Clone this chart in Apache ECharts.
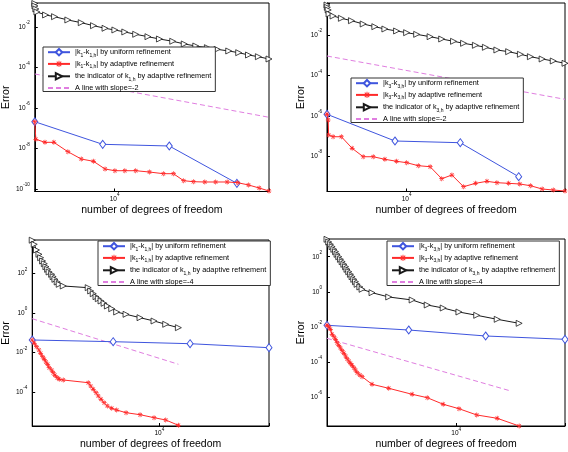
<!DOCTYPE html>
<html><head><meta charset="utf-8">
<script src="https://cdn.jsdelivr.net/npm/echarts@6/dist/echarts.min.js"></script>
<style>html,body{margin:0;padding:0;background:#fff}#c{width:568px;height:452px}</style>
</head><body><div id="c"></div><script>
// ---------- Panel 1 (k1, slope -2) ----------
const p1UniX = [4300, 8820, 17830, 36450];
const p1UniY = [2.10e-7, 1.61e-8, 1.33e-8, 1.91e-10];
const p1AdaX = [4300, 4350, 4790, 5260, 6100, 7030, 8000, 9040, 10030, 11140, 12500, 14460, 16750, 18630, 20750, 23010, 25950, 29100, 32880, 36730, 41200, 46130, 51170];
const p1AdaY = [2.10e-7, 2.85e-8, 2.02e-8, 2.02e-8, 6.95e-9, 3.03e-9, 2.33e-9, 9.7e-10, 8.0e-10, 8.0e-10, 8.0e-10, 6.9e-10, 5.7e-10, 5.7e-10, 2.57e-10, 2.29e-10, 2.22e-10, 2.22e-10, 2.22e-10, 2.05e-10, 1.58e-10, 1.12e-10, 7.96e-11];
const p1IndX = [4300, 4310, 4350, 4400, 4820, 5300, 6100, 7030, 8000, 9040, 10030, 11140, 12500, 14230, 16070, 18490, 20890, 23600, 26680, 29580, 33430, 37150, 41200, 45740, 51170];
const p1IndY = [0.1445, 0.109, 0.0775, 0.0551, 0.0392, 0.0323, 0.0222, 0.0163, 0.0116, 0.00863, 0.00711, 0.00567, 0.00436, 0.00332, 0.00255, 0.00197, 0.00145, 0.00115, 0.00095, 0.00079, 0.000653, 0.000538, 0.000414, 0.000341, 0.000263];
const p1SlopeX = [4300, 51170];
const p1SlopeY = [4.78e-5, 3.48e-7];

// ---------- Panel 2 (k3, slope -2) ----------
const p2UniX = [4375, 8860, 17450, 32000];
const p2UniY = [1.19e-6, 5.65e-8, 4.66e-8, 9.66e-10];
const p2AdaX = [4375, 4430, 4450, 4660, 5080, 5680, 6370, 7070, 7980, 9010, 10000, 11290, 12760, 14390, 16000, 18060, 20420, 23010, 25520, 28840, 32360, 36140, 40830, 45820, 51760];
const p2AdaY = [1.19e-6, 6.19e-7, 1.12e-7, 9.2e-8, 9.2e-8, 2.46e-8, 9.4e-9, 9.4e-9, 7.03e-9, 5.60e-9, 4.77e-9, 3.39e-9, 3.02e-9, 7.69e-10, 1.17e-9, 3.09e-10, 4.55e-10, 5.71e-10, 4.88e-10, 4.55e-10, 4.21e-10, 3.47e-10, 2.38e-10, 2.12e-10, 1.89e-10];
const p2IndX = [4375, 4390, 4430, 4470, 4660, 5080, 5640, 6370, 7190, 7980, 9010, 10000, 11100, 12760, 14390, 16270, 18060, 20420, 22650, 25520, 28840, 32580, 36140, 40830, 45820, 51760];
const p2IndY = [0.305, 0.235, 0.173, 0.110, 0.0873, 0.0671, 0.0511, 0.0351, 0.0258, 0.0198, 0.0158, 0.0130, 0.0108, 0.00824, 0.00634, 0.00488, 0.00388, 0.00309, 0.00246, 0.00181, 0.00149, 0.00111, 0.000843, 0.000649, 0.000517, 0.000397];
const p2SlopeX = [4375, 51760];
const p2SlopeY = [9.12e-4, 6.56e-6];

// ---------- Panel 3 (k1, slope -4) ----------
const p3UniX = [3133, 6560, 13240, 27220];
const p3UniY = [0.0435, 0.0356, 0.0282, 0.0177];
const p3AdaX = [3133, 3192, 3258, 3332, 3383, 3444, 3499, 3550, 3606, 3656, 3741, 3793, 3855, 3936, 4009, 4159, 5224, 5343, 5470, 5610, 5728, 5874, 6040, 6223, 6477, 6775, 7380, 8385, 9528, 10600, 11900];
const p3AdaY = [0.0435, 0.0296, 0.0199, 0.0135, 0.00919, 0.00618, 0.00456, 0.00333, 0.00255, 0.00171, 0.00131, 0.000953, 0.000704, 0.000532, 0.000442, 0.000407, 0.000297, 0.000202, 0.000137, 9.24e-5, 6.29e-5, 4.28e-5, 2.87e-5, 1.95e-5, 1.49e-5, 1.22e-5, 8.93e-6, 7.08e-6, 4.99e-6, 3.81e-6, 2.05e-6];
const p3IndX = p3AdaX;
const p3IndY = [5000, 3097, 1592, 964, 647, 441, 321, 226, 167, 122, 93.3, 70.5, 52.0, 37.9, 29.0, 23.8, 19.5, 13.3, 9.68, 6.82, 5.40, 4.12, 3.15, 2.30, 1.68, 1.14, 0.873, 0.587, 0.399, 0.272, 0.183];
const p3SlopeX = [3133, 11900];
const p3SlopeY = [0.522, 0.00255];

// ---------- Panel 4 (k3, slope -4) ----------
const p4UniX = [2944, 6380, 13210, 27990];
const p4UniY = [0.01233, 0.00665, 0.00303, 0.00196];
const p4AdaX = [2944, 2992, 3040, 3090, 3141, 3192, 3238, 3290, 3344, 3398, 3453, 3510, 3557, 3616, 3675, 3733, 3793, 3855, 3915, 4018, 4103, 4508, 5280, 6590, 7600, 8840, 10260, 12140, 14740, 18140];
const p4AdaY = [0.01233, 0.01026, 0.00729, 0.00378, 0.00277, 0.00196, 0.00126, 0.000895, 0.000628, 0.000441, 0.000313, 0.000220, 0.000154, 0.000114, 8.43e-5, 6.49e-5, 4.73e-5, 3.50e-5, 2.45e-5, 1.80e-5, 1.45e-5, 5.36e-6, 3.17e-6, 1.44e-6, 9.24e-7, 3.89e-7, 2.18e-7, 9.55e-8, 6.19e-8, 2.25e-8];
const p4IndX = p4AdaX;
const p4IndY = [980, 689, 509, 372, 264, 193, 137, 100, 71.1, 51.9, 36.9, 26.9, 19.1, 14.0, 9.93, 7.24, 5.15, 3.76, 2.67, 1.88, 1.39, 0.889, 0.506, 0.341, 0.177, 0.119, 0.0706, 0.0458, 0.0271, 0.0160];
const p4SlopeX = [2944, 16740];
const p4SlopeY = [0.00224, 2.23e-6];

// axis ranges [xmin, xmax, ymin, ymax]
const ranges = [
  [4300, 51170, 7.53e-11, 0.153],
  [4375, 51760, 1.79e-10, 0.384],
  [3133, 27220, 1.89e-6, 5117],
  [2944, 27990, 2.25e-8, 1021]
];
const xTitle = 'number of degrees of freedom';
const yTitle = 'Error';

const FONT = 'Liberation Sans, Arial, Helvetica, sans-serif';
const BLUE = '#3f55de', RED = '#ff2a2a', BLACK = '#1a1a1a', MAG = '#e07ee0';
const TRI = 'path://M0,0L10,5L0,10Z';
const AST = 'path://M4.3,0H5.7V10H4.3Z M0,4.3H10V5.7H0Z M1,2L2,1L9,8L8,9Z M9,2L8,1L1,8L2,9Z';

function legendNames(k, slope) {
  return {
    uni: '|k' + k + '-k' + k + ',h| by uniform refinement',
    ada: '|k' + k + '-k' + k + ',h| by adaptive refinement',
    ind: 'the indicator of k' + k + ',h by adaptive refinement',
    slope: 'A line with slope=' + slope
  };
}
function richName(name) {
  let m = name.match(/^\|k(\d)-k(\d),h\| (.*)$/);
  if (m) return '{n||k}{s|' + m[1] + '}{n|-k}{s|' + m[2] + ',h}{n|| ' + m[3] + '}';
  m = name.match(/^the indicator of k(\d),h (.*)$/);
  if (m) return '{n|the indicator of k}{s|' + m[1] + ',h}{n| ' + m[2] + '}';
  return '{n|' + name + '}';
}
const panels = [
  {k: 1, slope: '-2', uni: [p1UniX, p1UniY], ada: [p1AdaX, p1AdaY], ind: [p1IndX, p1IndY], sl: [p1SlopeX, p1SlopeY]},
  {k: 3, slope: '-2', uni: [p2UniX, p2UniY], ada: [p2AdaX, p2AdaY], ind: [p2IndX, p2IndY], sl: [p2SlopeX, p2SlopeY]},
  {k: 1, slope: '-4', uni: [p3UniX, p3UniY], ada: [p3AdaX, p3AdaY], ind: [p3IndX, p3IndY], sl: [p3SlopeX, p3SlopeY]},
  {k: 3, slope: '-4', uni: [p4UniX, p4UniY], ada: [p4AdaX, p4AdaY], ind: [p4IndX, p4IndY], sl: [p4SlopeX, p4SlopeY]}
];
const gridPos = [
  {left: 32, top: 3, width: 237, height: 188.5},
  {left: 327, top: 3, width: 238, height: 188.5},
  {left: 32, top: 240, width: 237, height: 186},
  {left: 327, top: 239, width: 238, height: 187}
];
const legendPos = [
  {left: 43, top: 47},
  {left: 351, top: 78},
  {left: 98, top: 241},
  {left: 387, top: 241}
];
const pair = (xs, ys) => xs.map((x, i) => [x, ys[i]]);
const tickRich = {
  b: {fontSize: 6.5, lineHeight: 13, fontFamily: FONT, color: '#000'},
  s: {fontSize: 4.6, verticalAlign: 'top', fontFamily: FONT, color: '#000'}
};
function expLabel(v, evenOnly) {
  const e = Math.log10(v), r = Math.round(e);
  if (Math.abs(e - r) > 1e-3) return '';
  if (evenOnly && r % 2 !== 0) return '';
  return '{b|10}{s|' + r + '}';
}

const grid = [], xAxis = [], yAxis = [], series = [], legend = [];
panels.forEach((p, gi) => {
  const r = ranges[gi];
  grid.push(Object.assign({show: true, borderColor: '#000', borderWidth: 1, backgroundColor: '#fff'}, gridPos[gi]));
  xAxis.push({
    type: 'log', logBase: 10, gridIndex: gi, min: r[0], max: r[1],
    axisLine: {lineStyle: {color: '#000', width: 1}},
    axisTick: {inside: true, length: 3, lineStyle: {color: '#000'}},
    splitLine: {show: false},
    axisLabel: {interval: 0, margin: 1, formatter: v => expLabel(v, false), rich: tickRich},
    name: xTitle, nameLocation: 'middle', nameGap: 13,
    nameTextStyle: {fontSize: 10.5, fontFamily: FONT, color: '#000'}
  });
  yAxis.push({
    // ticks every two decades (10^-2, 10^-4, ...) as in the reference
    type: 'log', logBase: 100, gridIndex: gi, min: r[2], max: r[3],
    axisLine: {lineStyle: {color: '#000', width: 1}},
    axisTick: {inside: true, length: 3, lineStyle: {color: '#000'}},
    splitLine: {show: false},
    axisLabel: {interval: 0, margin: 5, formatter: v => expLabel(v, true), rich: tickRich},
    name: yTitle, nameLocation: 'middle', nameGap: 17, nameRotate: 90,
    nameTextStyle: {fontSize: 10.5, fontFamily: FONT, color: '#000'}
  });
  const nm = legendNames(p.k, p.slope);
  series.push({
    type: 'line', name: nm.uni, xAxisIndex: gi, yAxisIndex: gi, data: pair(p.uni[0], p.uni[1]),
    symbol: 'diamond', symbolSize: [6, 8], showAllSymbol: true,
    lineStyle: {color: BLUE, width: 1}, itemStyle: {color: '#fff', borderColor: BLUE, borderWidth: 1}, z: 3
  });
  series.push({
    type: 'line', name: nm.ada, xAxisIndex: gi, yAxisIndex: gi, data: pair(p.ada[0], p.ada[1]),
    symbol: AST, symbolSize: 5, showAllSymbol: true,
    lineStyle: {color: RED, width: 1}, itemStyle: {color: RED}, z: 4
  });
  series.push({
    type: 'line', name: nm.ind, xAxisIndex: gi, yAxisIndex: gi, data: pair(p.ind[0], p.ind[1]),
    symbol: TRI, symbolSize: 6, showAllSymbol: true,
    lineStyle: {color: BLACK, width: 1}, itemStyle: {color: '#fff', borderColor: BLACK, borderWidth: 0.8}, z: 3
  });
  series.push({
    type: 'line', name: nm.slope, xAxisIndex: gi, yAxisIndex: gi, data: pair(p.sl[0], p.sl[1]),
    symbol: 'none', lineStyle: {color: MAG, width: 1, type: [5, 3]}, itemStyle: {color: MAG}, z: 2
  });
  legend.push(Object.assign({
    orient: 'vertical', selectedMode: false,
    data: [
      nm.uni, nm.ada, nm.ind,
      {name: nm.slope, itemStyle: {color: 'rgba(0,0,0,0)', borderColor: 'rgba(0,0,0,0)', borderWidth: 0, opacity: 0}}
    ],
    backgroundColor: '#fff', borderColor: '#333', borderWidth: 1,
    padding: [1, 4, 0, 4], itemGap: 2.7, itemWidth: 22, itemHeight: 8,
    textStyle: {
      fontFamily: FONT, fontSize: 7.3, color: '#000',
      rich: {
        n: {fontSize: 7.3, lineHeight: 11, fontFamily: FONT, color: '#000'},
        s: {fontSize: 5, verticalAlign: 'bottom', fontFamily: FONT, color: '#000'}
      }
    },
    formatter: richName
  }, legendPos[gi]));
});

const chart = echarts.init(document.getElementById('c'), null, {renderer: 'canvas'});
chart.setOption({animation: false, backgroundColor: '#fff', grid, xAxis, yAxis, series, legend});
</script></body></html>
